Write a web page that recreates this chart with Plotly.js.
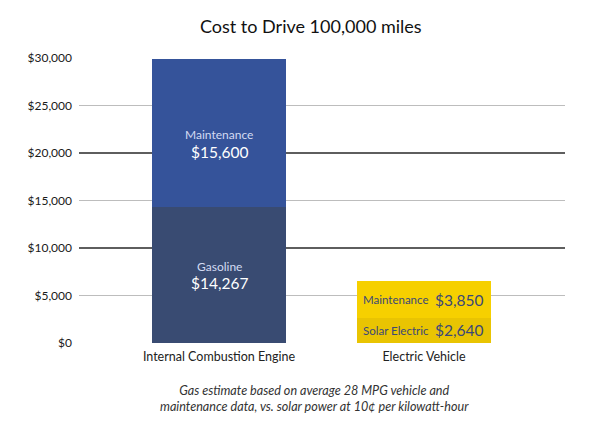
<!DOCTYPE html>
<html>
<head>
<meta charset="utf-8">
<script src="https://cdn.plot.ly/plotly-3.0.1.min.js"></script>
<style>html,body{margin:0;padding:0;background:#fff;}#chart{width:600px;height:430px;}</style>
</head>
<body>
<div id="chart"></div>
<script>
const categories = ["Internal Combustion Engine", "Electric Vehicle"];
const bottomLabels = ["Gasoline", "Solar Electric"];
const bottomValues = [14267, 2640];
const topLabels = ["Maintenance", "Maintenance"];
const topValues = [15600, 3850];
const yTickValues = [0, 5000, 10000, 15000, 20000, 25000, 30000];

const bottomColors = ["#394b72", "#e9c402"];
const topColors = ["#35539a", "#f6d000"];
const barWidth = 0.654;
const fontFam = "Lato, 'Open Sans', sans-serif";

function money(v){ return "$" + v.toLocaleString("en-US"); }

const traces = [
  {type: "bar", x: categories, y: bottomValues, width: barWidth,
   marker: {color: bottomColors, line: {width: 0}}, hoverinfo: "none", showlegend: false},
  {type: "bar", x: categories, y: topValues, width: barWidth,
   marker: {color: topColors, line: {width: 0}}, hoverinfo: "none", showlegend: false},
  {type: "scatter", x: categories, y: [null, null], yaxis: "y2", hoverinfo: "none", showlegend: false}
];

const annotations = [];
// ICE bar: label above value, centered
[0].forEach(i => {
  const segs = [[bottomLabels[i], bottomValues[i], bottomValues[i] / 2, 9, -8],
                [topLabels[i], topValues[i], bottomValues[i] + topValues[i] / 2, -1, -19]];
  segs.forEach(s => {
    annotations.push({x: categories[i], y: s[2], yshift: s[3], showarrow: false,
      text: s[0], font: {family: fontFam, size: 12, color: "#d3dbf2"}});
    annotations.push({x: categories[i], y: s[2], yshift: s[4], showarrow: false,
      text: money(s[1]), font: {family: fontFam, size: 15.5, color: "#ffffff"}});
  });
});
// EV bar: label left, value right
[1].forEach(i => {
  const left = i - barWidth / 2, right = i + barWidth / 2;
  const segs = [[bottomLabels[i], bottomValues[i], bottomValues[i] / 2],
                [topLabels[i], topValues[i], bottomValues[i] + topValues[i] / 2]];
  segs.forEach(s => {
    annotations.push({x: left, y: s[2], xanchor: "left", xshift: 4, showarrow: false,
      text: s[0], font: {family: fontFam, size: 11.5, color: "#3b4878"}});
    annotations.push({x: right, y: s[2], xanchor: "right", xshift: -6, showarrow: false,
      text: money(s[1]), font: {family: fontFam, size: 15.5, color: "#3b4878"}});
  });
});
annotations.push({xref: "paper", yref: "paper", x: (314 - 79) / 486, y: -0.135, yanchor: "top",
  showarrow: false, align: "center",
  text: "<i>Gas estimate based on average 28 MPG vehicle and<br>maintenance data, vs. solar power at 10¢ per kilowatt-hour</i>",
  font: {family: fontFam, size: 12.6, color: "#333333"}});

const layout = {
  width: 600, height: 430,
  margin: {l: 79, r: 35, t: 58, b: 87},
  paper_bgcolor: "#ffffff", plot_bgcolor: "#ffffff",
  barmode: "stack",
  title: {text: "Cost to Drive 100,000 miles", x: 0.518, xref: "container", xanchor: "center",
          y: 0.937, yref: "container", yanchor: "middle",
          font: {family: fontFam, size: 18, color: "#111111"}},
  xaxis: {range: [-0.683, 1.688], showgrid: false, zeroline: false, showline: false,
          ticks: "", ticklabelstandoff: 4,
          tickfont: {family: fontFam, size: 12.5, color: "#222222"}, fixedrange: true},
  yaxis: {range: [0, 30000], tickvals: yTickValues, ticktext: yTickValues.map(money),
          showgrid: true, gridcolor: "#bdbdbd", gridwidth: 1.2, zeroline: false, showline: false,
          ticks: "", ticklabelstandoff: 6,
          tickfont: {family: fontFam, size: 12, color: "#1a1a1a"}},
  yaxis2: {range: [0, 30000], overlaying: "y", tickvals: [0, 10000, 20000, 30000],
           showticklabels: false, showgrid: true, gridcolor: "#5e5e5e", gridwidth: 1.2,
           zeroline: false, showline: false, ticks: ""},
  annotations: annotations,
  font: {family: fontFam}
};

Plotly.newPlot("chart", traces, layout, {displayModeBar: false, staticPlot: true});
</script>
</body>
</html>
